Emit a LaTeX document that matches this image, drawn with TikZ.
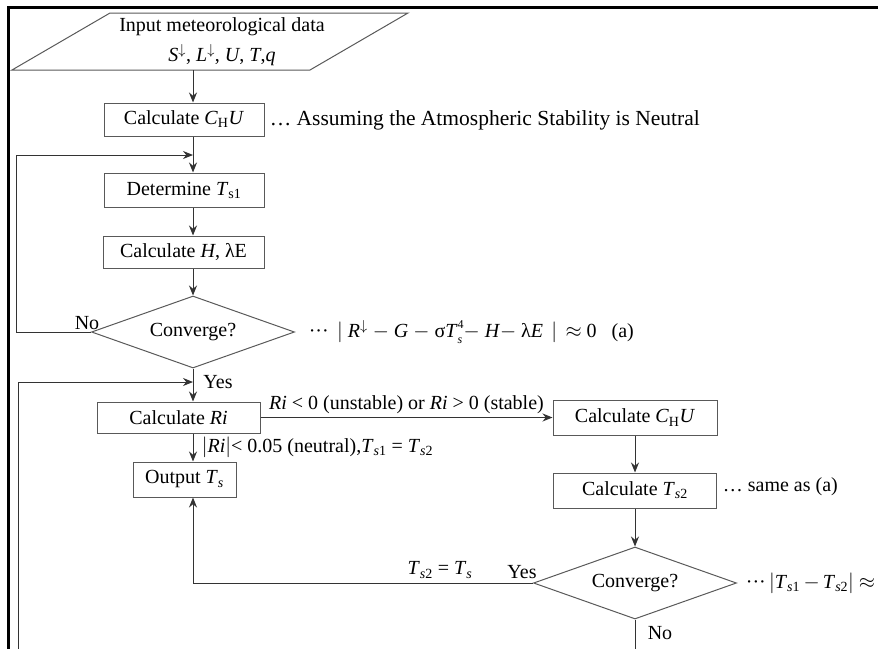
\documentclass[tikz,border=0pt]{standalone}
\usepackage{fontspec}
\setmainfont{Liberation Serif}
\usetikzlibrary{shapes,arrows,arrows.meta,positioning}

\begin{document}
\begin{tikzpicture}[x=1pt,y=-1pt,
	font=\fontsize{20}{24}\selectfont,
	line width=1pt,
	box/.style={draw=black!65, rectangle, inner sep=0pt},
	decide/.style={draw=black!65, diamond, aspect=2.8, inner sep=0pt, minimum width=203pt, minimum height=72pt},
	flow/.style={-{Stealth[length=10pt,width=8pt]}, draw=black!80},
	note/.style={anchor=west}]

	\useasboundingbox (0,0) rectangle (878,648);
	\clip (0,0) rectangle (878,648);

	% Frame
	\draw[line width=3pt] (8,7) rectangle (920,700);

	% Input data
	\draw[draw=black!65] (12,70) -- (110,13) -- (408,13) -- (310,70) -- cycle;
	\node[align=center] (input) at (222,42) {Input meteorological data\\[6pt]
		\textit{S}$^{\downarrow}$, \textit{L}$^{\downarrow}$, \textit{U}, \textit{T},\textit{q}};
	\coordinate (inbot) at (193,70);

	% Left column
	\node[box, minimum width=160pt, minimum height=33pt] (chu) at (184,119.5) {Calculate \textit{C}\textsubscript{H}\textit{U}};
	\node[box, minimum width=160pt, minimum height=34pt] (ts1) at (184,190) {Determine \textit{T}\textsubscript{s1}};
	\node[box, minimum width=161pt, minimum height=32pt] (hle) at (183.5,252) {Calculate \textit{H}, λE};
	\node[decide] (conv1) at (193,332) {Converge?};
	\node[box, minimum width=163pt, minimum height=31pt] (ri) at (178.5,417.5) {Calculate \textit{Ri}};
	\node[box, minimum width=103pt, minimum height=35pt] (out) at (184.5,479.5) {Output \textit{T}\textsubscript{\textit{s}}};

	% Right column
	\node[box, minimum width=164pt, minimum height=35pt] (chu2) at (635,417.5) {Calculate \textit{C}\textsubscript{H}\textit{U}};
	\node[box, minimum width=163pt, minimum height=35pt] (ts2) at (635,490.5) {Calculate \textit{T}\textsubscript{\textit{s}2}};
	\node[decide] (conv2) at (635,583) {Converge?};

	% Loop points
	\coordinate (j1) at (193,155);
	\coordinate (j2) at (193,382);
	\coordinate (loop1) at (16,155);
	\coordinate (loop2) at (18,382);
	\coordinate (low) at (635,690);

	% Arrows
	\draw[flow] (inbot) -- (inbot |- chu.north);
	\draw[flow] (inbot |- chu.south) -- (inbot |- ts1.north);
	\draw[flow] (inbot |- ts1.south) -- (inbot |- hle.north);
	\draw[flow] (inbot |- hle.south) -- (conv1.north);
	\draw[flow] (conv1.south) -- (conv1.south |- ri.north);
	\draw[flow] (conv1.west) -| (loop1) -- (j1);
	\draw[flow] (conv2.south) -- (low) -| (loop2) -- (j2);
	\draw[flow] (ri.east) -- node[above, black] (rilbl) {\textit{Ri} < 0 (unstable) or \textit{Ri} > 0 (stable)} (chu2.west);
	\draw[flow] (inbot |- ri.south) -- (inbot |- out.north);
	\draw[flow] (chu2.south) -- (ts2.north);
	\draw[flow] (ts2.south) -- (conv2.north);
	\draw[flow] (conv2.west) -| (inbot |- out.south);

	% Labels
	\node (no1) at (87,323) {No};
	\node (yes1) at (218,382) {Yes};
	\node (yes2) at (522,572) {Yes};
	\node (no2) at (660,633) {No};
	\node (eq2) at (440,570) {\textit{T}\textsubscript{\textit{s}2} = \textit{T}\textsubscript{\textit{s}}};
	\node[note] (neutral) at (198,447) {$\big|$\textit{Ri}$\big|$< 0.05 (neutral),\textit{T}\textsubscript{\textit{s}1} = \textit{T}\textsubscript{\textit{s}2}};

	% Notes
	\node[note, font=\fontsize{21.5}{25}\selectfont] (note1) at (266,120) {… Assuming the Atmospheric Stability is Neutral};
	\node[note] (note2) at (305,332) {···\ \,$\Big|$ \textit{R}$^{\downarrow}$ $-$ \textit{G} $-$ σ\textit{T}\rlap{\raisebox{-6pt}{\fontsize{12}{12}\selectfont\textit{s}}}\raisebox{9pt}{\fontsize{12}{12}\selectfont 4}$-$ \textit{H}$-$ λ\textit{E}\, $\Big|$\ \,$\approx$ 0 \ \ (a)};
	\node[note] (note3) at (719,487) {… same as (a)};
	\node[note] (note4) at (742,583) {···\,$\big|$\textit{T}\textsubscript{\textit{s}1}\,$-$\,\textit{T}\textsubscript{\textit{s}2}$\big|$ $\approx$ 0};
\end{tikzpicture}
\end{document}
